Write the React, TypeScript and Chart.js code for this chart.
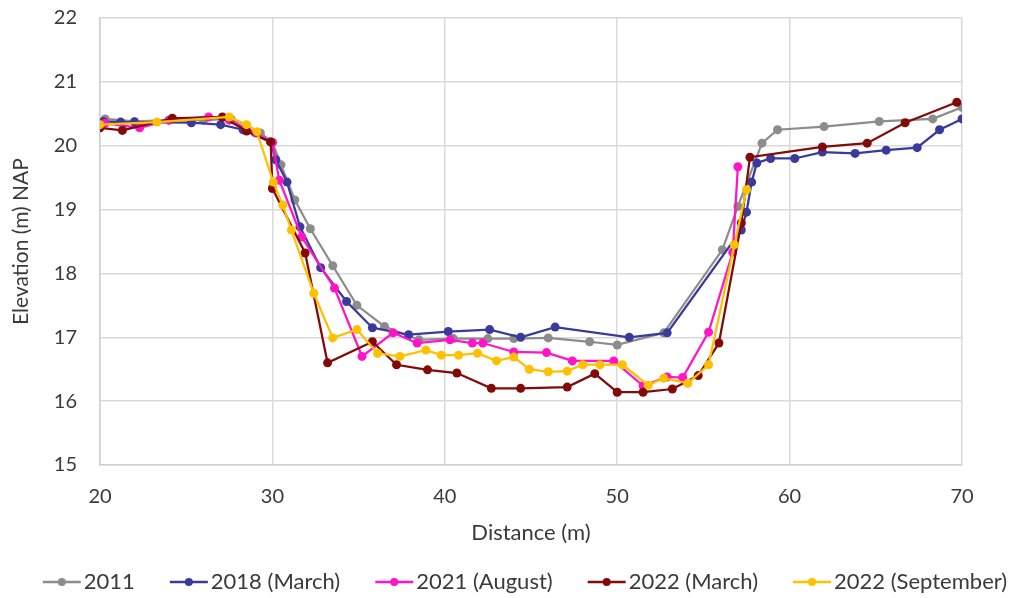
import React, { useEffect, useRef } from "react";
import { Chart, registerables } from "chart.js";

Chart.register(...registerables);

const seriesNames = ["2011", "2018 (March)", "2021 (August)", "2022 (March)", "2022 (September)"];
const seriesColors = ["#8c8c8c", "#3a3a9c", "#ff14c8", "#840a0a", "#ffc000"];

const x2011 = [20.3, 22.0, 24.0, 26.0, 27.6, 28.5, 29.3, 30.0, 30.5, 31.3, 32.2, 33.5, 34.9, 36.5, 38.5, 40.5, 42.5, 44.0, 46.0, 48.4, 50.0, 52.7, 56.1, 57.0, 58.4, 59.3, 62.0, 65.2, 68.3, 70.0];
const y2011 = [20.42, 20.38, 20.4, 20.4, 20.42, 20.32, 20.2, 20.05, 19.7, 19.15, 18.7, 18.12, 17.5, 17.17, 16.96, 16.98, 16.98, 16.98, 16.99, 16.93, 16.88, 17.07, 18.37, 19.05, 20.04, 20.25, 20.3, 20.38, 20.42, 20.6];

const x2018 = [20.2, 21.2, 22.0, 25.3, 27.0, 28.3, 29.9, 30.2, 30.85, 31.6, 32.8, 34.3, 35.8, 37.9, 40.2, 42.6, 44.4, 46.4, 50.7, 52.9, 57.2, 57.5, 57.8, 58.1, 58.9, 60.3, 61.9, 63.8, 65.6, 67.4, 68.7, 70.0];
const y2018 = [20.38, 20.37, 20.37, 20.36, 20.33, 20.25, 20.06, 19.78, 19.43, 18.73, 18.09, 17.56, 17.15, 17.04, 17.09, 17.12, 17.0, 17.16, 17.0, 17.07, 18.68, 18.96, 19.43, 19.73, 19.8, 19.8, 19.9, 19.88, 19.93, 19.97, 20.25, 20.42];

const x2021 = [20.3, 22.3, 24.0, 26.3, 27.5, 29.0, 30.0, 30.4, 31.7, 33.6, 35.2, 37.0, 38.4, 40.3, 41.6, 42.2, 44.0, 45.9, 47.4, 49.8, 51.5, 52.9, 53.8, 55.3, 56.7, 57.0];
const y2021 = [20.35, 20.28, 20.4, 20.45, 20.4, 20.2, 20.05, 19.46, 18.57, 17.77, 16.7, 17.07, 16.91, 16.96, 16.91, 16.91, 16.77, 16.76, 16.63, 16.63, 16.24, 16.38, 16.37, 17.08, 18.33, 19.67];

const x2022m = [20.0, 21.3, 24.2, 27.1, 28.5, 29.9, 30.0, 31.9, 33.2, 35.8, 37.2, 39.0, 40.7, 42.7, 44.4, 47.1, 48.7, 50.0, 51.5, 53.2, 54.7, 55.9, 57.2, 57.7, 61.9, 64.5, 66.7, 69.7];
const y2022m = [20.28, 20.24, 20.43, 20.45, 20.23, 20.06, 19.33, 18.32, 16.6, 16.93, 16.57, 16.49, 16.44, 16.2, 16.2, 16.22, 16.43, 16.14, 16.14, 16.19, 16.4, 16.91, 18.79, 19.82, 19.98, 20.04, 20.36, 20.68];

const x2022s = [20.0, 23.3, 27.5, 28.5, 29.1, 30.05, 30.6, 31.1, 32.4, 33.5, 34.9, 36.1, 37.4, 38.9, 39.8, 40.8, 41.9, 43.0, 44.0, 44.9, 46.0, 47.1, 48.0, 49.0, 50.3, 51.8, 52.7, 54.1, 55.3, 56.8, 57.5];
const y2022s = [20.33, 20.37, 20.45, 20.33, 20.22, 19.43, 19.07, 18.68, 17.69, 16.99, 17.12, 16.75, 16.7, 16.8, 16.72, 16.72, 16.75, 16.63, 16.69, 16.5, 16.46, 16.47, 16.57, 16.57, 16.57, 16.25, 16.36, 16.28, 16.57, 18.45, 19.31];

const xTicks = [20, 30, 40, 50, 60, 70];
const yTicks = [15, 16, 17, 18, 19, 20, 21, 22];

const seriesX = [x2011, x2018, x2021, x2022m, x2022s];
const seriesY = [y2011, y2018, y2021, y2022m, y2022s];

const FONT = "Lato, 'Open Sans', sans-serif";
const TEXT_COLOR = "#3a3a3a";

// Bottom legend drawn like the spreadsheet one: line with a dot, then the text.
const legendPlugin = {
  id: "lineDotLegend",
  afterDraw(chart: any) {
    const ctx = chart.ctx as CanvasRenderingContext2D;
    const items = chart.data.datasets.map((d: any) => ({ text: d.label, color: d.borderColor }));
    ctx.save();
    ctx.font = `22px ${FONT}`;
    const lineW = 38;
    const gapText = 3;
    const gapItem = 35;
    const widths = items.map((it: any) => lineW + gapText + ctx.measureText(it.text).width);
    const total = widths.reduce((a: number, b: number) => a + b, 0) + gapItem * (items.length - 1);
    const center = (chart.chartArea.left + chart.chartArea.right) / 2 - 6;
    let x = center - total / 2;
    const y = 582;
    items.forEach((it: any, i: number) => {
      ctx.strokeStyle = it.color;
      ctx.lineWidth = 2.5;
      ctx.beginPath();
      ctx.moveTo(x, y);
      ctx.lineTo(x + lineW, y);
      ctx.stroke();
      ctx.fillStyle = it.color;
      ctx.beginPath();
      ctx.arc(x + lineW / 2, y, 4, 0, Math.PI * 2);
      ctx.fill();
      ctx.fillStyle = TEXT_COLOR;
      ctx.textBaseline = "middle";
      ctx.textAlign = "left";
      ctx.fillText(it.text, x + lineW + gapText, y);
      x += widths[i] + gapItem;
    });
    ctx.restore();
  },
};

export default function App() {
  const ref = useRef<HTMLCanvasElement | null>(null);

  useEffect(() => {
    document.body.style.margin = "0";
    if (!ref.current) return;
    const datasets = seriesNames.map((name, i) => ({
      label: name,
      data: seriesX[i].map((x, j) => ({ x, y: seriesY[i][j] })),
      borderColor: seriesColors[i],
      backgroundColor: seriesColors[i],
      pointBackgroundColor: seriesColors[i],
      pointBorderColor: seriesColors[i],
      pointRadius: 4.5,
      pointBorderWidth: 0,
      pointStyle: "circle",
      borderWidth: 2.25,
      showLine: true,
      tension: 0,
      order: seriesNames.length - i,
    }));
    const chart = new Chart(ref.current, {
      type: "scatter",
      data: { datasets: datasets as any },
      plugins: [legendPlugin],
      options: {
        animation: false,
        responsive: false,
        maintainAspectRatio: false,
        layout: { padding: { top: 0, right: 53, left: 0, bottom: 0 } },
        plugins: {
          tooltip: { enabled: false },
          legend: { display: false },
        },
        scales: {
          x: {
            type: "linear",
            min: 20,
            max: 70,
            afterBuildTicks: (s: any) => {
              s.ticks = xTicks.map((v) => ({ value: v }));
            },
            afterFit: (s: any) => {
              s.height = 133;
            },
            ticks: { color: TEXT_COLOR, font: { family: FONT, size: 20 }, padding: 20 },
            grid: { color: "#d9d9d9", lineWidth: 1.5, drawTicks: false },
            border: { color: "#d0d0d0", width: 1.5 },
            title: {
              display: true,
              text: "Distance (m)",
              color: TEXT_COLOR,
              font: { family: FONT, size: 22 },
              padding: { top: 0, bottom: 52 },
            },
          },
          y: {
            type: "linear",
            min: 15,
            max: 22,
            afterBuildTicks: (s: any) => {
              s.ticks = yTicks.map((v) => ({ value: v }));
            },
            afterFit: (s: any) => {
              s.width = 100;
              s.paddingTop = 18;
            },
            ticks: { color: TEXT_COLOR, font: { family: FONT, size: 20 }, padding: 23 },
            grid: { color: "#d9d9d9", lineWidth: 1.5, drawTicks: false },
            border: { color: "#d0d0d0", width: 1.5 },
            title: {
              display: true,
              text: "Elevation (m) NAP",
              color: TEXT_COLOR,
              font: { family: FONT, size: 21 },
              padding: { top: 9, bottom: 0 },
            },
          },
        },
      },
    });
    return () => chart.destroy();
  }, []);

  return (
    <div style={{ width: 1015, height: 598 }}>
      <canvas ref={ref} width={1015} height={598} style={{ display: "block" }} />
    </div>
  );
}
